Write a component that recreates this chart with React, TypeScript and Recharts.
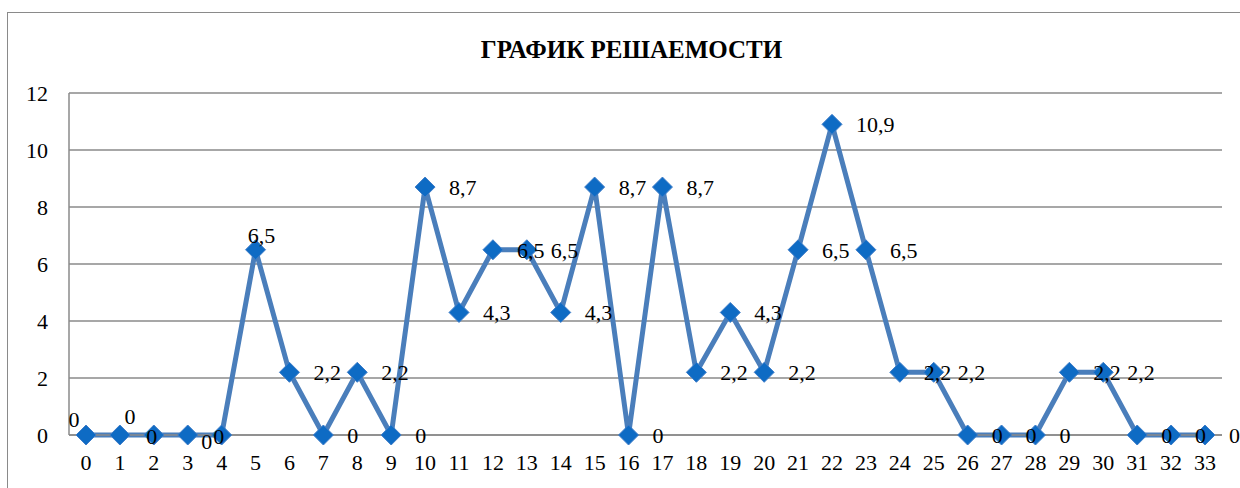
import React from 'react';
import { LineChart, Line, XAxis, YAxis, CartesianGrid, LabelList } from 'recharts';

const categories = [
  '0', '1', '2', '3', '4', '5', '6', '7', '8', '9', '10', '11', '12', '13', '14', '15', '16',
  '17', '18', '19', '20', '21', '22', '23', '24', '25', '26', '27', '28', '29', '30', '31', '32', '33',
];
const solved = [
  0, 0, 0, 0, 0, 6.5, 2.2, 0, 2.2, 0, 8.7, 4.3, 6.5, 6.5, 4.3, 8.7, 0,
  8.7, 2.2, 4.3, 2.2, 6.5, 10.9, 6.5, 2.2, 2.2, 0, 0, 0, 2.2, 2.2, 0, 0, 0,
];
const yTicks = [0, 2, 4, 6, 8, 10, 12];
const title = 'ГРАФИК РЕШАЕМОСТИ';

const data = categories.map((name, i) => ({ name, value: solved[i] }));

const FONT = '"Liberation Serif"';
const GRID = '#8a8a8a';

// labels that Excel placed differently from the usual "right of the marker"
const labelNudge: Record<number, [number, number]> = {
  0: [-12, -8],
  1: [10, -11],
  2: [-2, 9],
  3: [19, 14],
  4: [-3, 9],
  5: [6, -7],
};

const fmt = (v: number) => String(v).replace('.', ',');

const Diamond = (props: any) => {
  const { cx, cy, index } = props;
  if (cx == null || cy == null) return <g key={`d${index}`} />;
  const r = 10;
  return (
    <path
      key={`d${index}`}
      d={`M${cx},${cy - r} L${cx + r},${cy} L${cx},${cy + r} L${cx - r},${cy} Z`}
      fill="#0e6bc4"
      stroke="#3f7dc8"
      strokeWidth={1}
    />
  );
};

const ValueLabel = (props: any) => {
  const { x, y, value, index } = props;
  const nudge = labelNudge[index];
  const style = { fontFamily: FONT, fontSize: 22 };
  if (nudge) {
    return (
      <text x={x + nudge[0]} y={y + nudge[1]} textAnchor="middle" style={style} fill="#000">
        {fmt(value)}
      </text>
    );
  }
  return (
    <text x={x + 24} y={y + 8} textAnchor="start" style={style} fill="#000">
      {fmt(value)}
    </text>
  );
};

const tickStyle = { fill: '#000', fontSize: 22, style: { fontFamily: FONT } };

export default function App() {
  return (
    <div style={{ position: 'absolute', left: 0, top: 0, width: 1240, height: 488, background: '#fff', overflow: 'hidden', fontFamily: FONT }}>
      <div
        style={{
          position: 'absolute',
          left: 7,
          top: 12,
          width: 1300,
          height: 600,
          border: '1.5px solid #8a8a8a',
        }}
      />
      <div
        style={{
          position: 'absolute',
          left: 0,
          top: 37,
          width: 1263,
          textAlign: 'center',
          fontFamily: FONT,
          fontWeight: 'bold',
          fontSize: 25,
          lineHeight: '25px',
          color: '#000',
        }}
      >
        {title}
      </div>
      <div style={{ position: 'absolute', left: 0, top: 0 }}>
        <LineChart width={1240} height={488} data={data} margin={{ top: 93, right: 18, bottom: 0, left: 0 }} style={{ fontFamily: FONT }}>
          <CartesianGrid vertical={false} stroke={GRID} strokeWidth={1.5} />
          <XAxis
            dataKey="name"
            height={53}
            padding={{ left: 17, right: 17 }}
            tickLine={false}
            tickSize={0}
            tickMargin={19}
            axisLine={{ stroke: GRID, strokeWidth: 1.5 }}
            tick={tickStyle}
            interval={0}
          />
          <YAxis
            width={69}
            domain={[0, 12]}
            ticks={yTicks}
            tickLine={false}
            tickSize={0}
            tickMargin={21}
            axisLine={{ stroke: GRID, strokeWidth: 1.5 }}
            tick={tickStyle}
          />
          <Line
            type="linear"
            dataKey="value"
            stroke="#4a7ebb"
            strokeWidth={5}
            dot={Diamond}
            activeDot={false}
            isAnimationActive={false}
          >
            <LabelList dataKey="value" content={ValueLabel} />
          </Line>
        </LineChart>
      </div>
    </div>
  );
}
